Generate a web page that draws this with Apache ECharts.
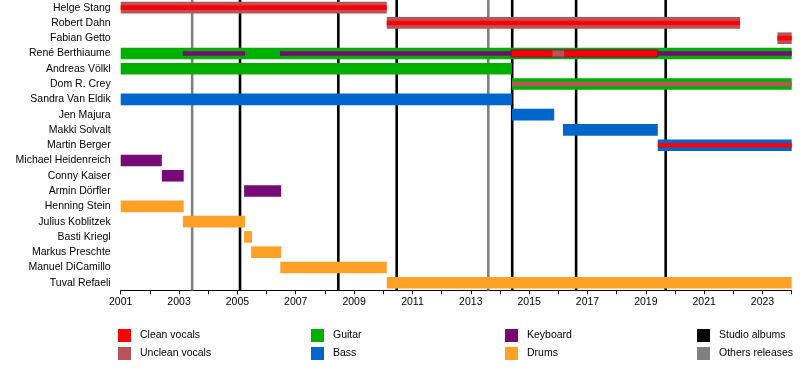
<!DOCTYPE html>
<html><head><meta charset="utf-8">
<script src="https://cdn.jsdelivr.net/npm/echarts@6/dist/echarts.min.js"></script>
<style>html,body{margin:0;padding:0;background:#fff}#c{width:800px;height:388px}</style>
</head><body><div id="c"></div>
<script>
const members = ['Helge Stang','Robert Dahn','Fabian Getto','René Berthiaume','Andreas Völkl','Dom R. Crey','Sandra Van Eldik','Jen Majura','Makki Solvalt','Martin Berger','Michael Heidenreich','Conny Kaiser','Armin Dörfler','Henning Stein','Julius Koblitzek','Basti Kriegl','Markus Preschte','Manuel DiCamillo','Tuval Refaeli'];
const roles = ['Clean vocals','Unclean vocals','Guitar','Bass','Keyboard','Drums'];
const roleColors = ['#ff0000','#b8535a','#00b000','#0066cc','#760a76','#ffa126'];
// [member, role, start, end]
const mainBars = [
 ['Helge Stang','Unclean vocals',2001,2010.12],
 ['Robert Dahn','Unclean vocals',2010.12,2022.23],
 ['Fabian Getto','Unclean vocals',2023.51,2024],
 ['René Berthiaume','Guitar',2001,2024],
 ['Andreas Völkl','Guitar',2001,2014.41],
 ['Dom R. Crey','Guitar',2014.41,2024],
 ['Sandra Van Eldik','Bass',2001,2014.41],
 ['Jen Majura','Bass',2014.41,2015.86],
 ['Makki Solvalt','Bass',2016.16,2019.41],
 ['Martin Berger','Bass',2019.41,2024],
 ['Michael Heidenreich','Keyboard',2001,2002.41],
 ['Conny Kaiser','Keyboard',2002.41,2003.16],
 ['Armin Dörfler','Keyboard',2005.23,2006.5],
 ['Henning Stein','Drums',2001,2003.16],
 ['Julius Koblitzek','Drums',2003.13,2005.26],
 ['Basti Kriegl','Drums',2005.23,2005.5],
 ['Markus Preschte','Drums',2005.47,2006.5],
 ['Manuel DiCamillo','Drums',2006.47,2010.12],
 ['Tuval Refaeli','Drums',2010.12,2024]
];
const secondaryBars = [
 ['Helge Stang','Clean vocals',2001,2010.12],
 ['Robert Dahn','Clean vocals',2010.12,2022.23],
 ['Fabian Getto','Clean vocals',2023.51,2024],
 ['René Berthiaume','Keyboard',2003.13,2005.26],
 ['René Berthiaume','Keyboard',2006.46,2024],
 ['Dom R. Crey','Unclean vocals',2014.41,2024],
 ['Martin Berger','Clean vocals',2019.41,2024]
];
const tertiaryBars = [
 ['René Berthiaume','Clean vocals',2014.38,2019.41]
];
const quaternaryBars = [
 ['René Berthiaume','Unclean vocals',2015.8,2016.2]
];
const studioAlbums = [2005.09,2008.46,2010.46,2014.42,2016.61,2019.68];
const otherReleases = [2003.45,2013.60];
const yearLabels = [2001,2003,2005,2007,2009,2011,2013,2015,2017,2019,2021,2023];
const legendLabels = ['Clean vocals','Unclean vocals','Guitar','Bass','Keyboard','Drums','Studio albums','Others releases'];
const legendColors = ['#ff0000','#b8535a','#00b000','#0066cc','#760a76','#ffa126','#000000','#808080'];

const FONT = 'Liberation Sans';
const chart = echarts.init(document.getElementById('c'), null, {renderer:'canvas'});

function toData(arr){
  return arr.map(r => ({value:[members.indexOf(r[0]), r[2], r[3]], itemStyle:{color: roleColors[roles.indexOf(r[1])]}}));
}
function barRender(frac, strokeColor){
  return function(params, api){
    const c = api.value(0), s = api.value(1), e = api.value(2);
    const p1 = api.coord([s, c]), p2 = api.coord([e, c]);
    const band = api.size([0, 1])[1];
    const h = band * frac;
    return {type:'rect', shape:{x:p1[0], y:p1[1]-h/2, width:p2[0]-p1[0], height:h},
      style:{fill: api.visual('color'), stroke: strokeColor || null, lineWidth: strokeColor ? 1 : 0}};
  };
}
function lineRender(params, api){
  const x = api.coord([api.value(0), 0])[0];
  const cs = params.coordSys;
  return {type:'line', shape:{x1:x, y1:cs.y, x2:x, y2:cs.y+cs.height},
    style:{stroke: api.visual('color'), lineWidth: 2.6}};
}

const graphics = [];
const colX = [118, 311, 505, 697];
legendLabels.forEach((lab, i) => {
  const col = Math.floor(i/2), row = i % 2;
  const x = colX[col], y = 329 + row*18;
  graphics.push({type:'rect', left:x, top:y, shape:{width:13, height:13}, style:{fill: legendColors[i]}});
  graphics.push({type:'text', left:x+22, top:y+1, style:{text: lab, fill:'#000', font:'10.5px "'+FONT+'"'}});
});

chart.setOption({
  animation:false,
  backgroundColor:'#fff',
  grid:{left:120.7, right:8.3, top:-1.8, height:292.2, containLabel:false},
  xAxis:{type:'value', min:2001, max:2024, interval:1,
    axisLine:{show:true, lineStyle:{color:'#000', width:1}},
    axisTick:{show:true, length:4, lineStyle:{color:'#000'}},
    splitLine:{show:false},
    axisLabel:{color:'#000', fontSize:10.5, fontFamily:FONT, margin:6,
      formatter: v => yearLabels.indexOf(v) >= 0 ? String(v) : ''}},
  yAxis:{type:'category', inverse:true, data:members,
    axisLine:{show:false}, axisTick:{show:false}, splitLine:{show:false},
    axisLabel:{color:'#000', fontSize:10.5, fontFamily:FONT, margin:10, interval:0}},
  graphic: graphics,
  series:[
    {type:'custom', z:1, renderItem:lineRender, itemStyle:{color:'#808080'},
      encode:{x:0, y:1}, data: otherReleases.map(v => [v, 0])},
    {type:'custom', z:1, renderItem:lineRender, itemStyle:{color:'#000'},
      encode:{x:0, y:1}, data: studioAlbums.map(v => [v, 0])},
    {type:'custom', z:2, renderItem:barRender(0.76), encode:{x:[1,2], y:0}, data: toData(mainBars)},
    {type:'custom', z:3, renderItem:barRender(0.3), encode:{x:[1,2], y:0}, data: toData(secondaryBars)},
    {type:'custom', z:4, renderItem:barRender(0.46, '#760a76'), encode:{x:[1,2], y:0}, data: toData(tertiaryBars)},
    {type:'custom', z:5, renderItem:barRender(0.4), encode:{x:[1,2], y:0}, data: toData(quaternaryBars)}
  ]
});
</script></body></html>
